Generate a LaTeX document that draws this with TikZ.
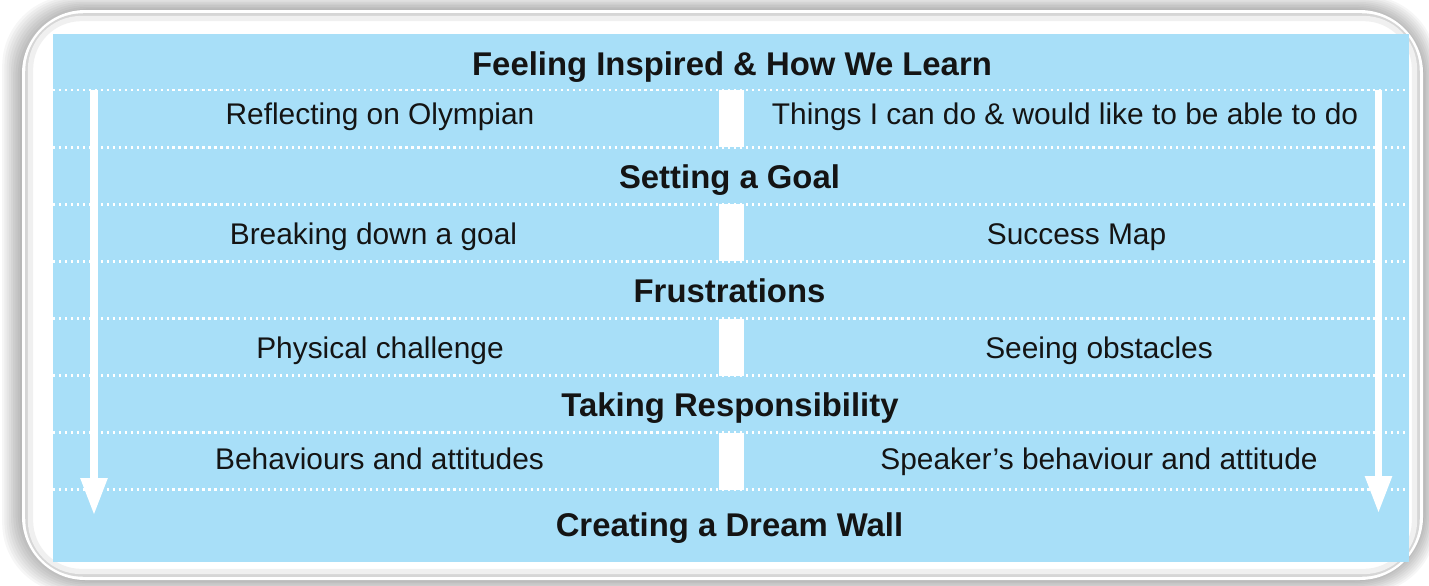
\documentclass[tikz,border=0pt]{standalone}
\usepackage{fontspec}
\setmainfont{Liberation Sans}
\usetikzlibrary{arrows.meta}

\begin{document}
\begin{tikzpicture}[
    x=0.02cm, y=-0.02cm,
    every node/.style={
        inner sep=0pt,
        text depth=0pt,
        text=ink
    },
    heading/.style={font=\fontsize{18.7}{20}\selectfont\bfseries, text height=13.4pt},
    topic/.style={font=\fontsize{17}{19}\selectfont, text height=12.2pt},
    rowline/.style={white, line width=1.7pt, dash pattern=on 1.3pt off 2.1pt},
    flow/.style={white, line width=4pt, -{Triangle[length=21pt,width=14.5pt]}}
]

% colours
\definecolor{panel}{RGB}{168,223,248}
\definecolor{ink}{RGB}{20,20,20}

\useasboundingbox (0,0) rectangle (1429,585);

% soft shadow + white frame
\foreach \s in {1,...,9}
    \fill[black, opacity=0.035, rounded corners=40] (22-2.2*\s,10-1.6*\s) rectangle (1423+1.5*\s,580+1.5*\s);
\fill[white, rounded corners=36] (22,10) rectangle (1423,580);
\draw[black!16, line width=2pt, rounded corners=32] (27,15) rectangle (1418,575);
\draw[black!6, line width=3pt, rounded corners=29] (30.5,18.5) rectangle (1414.5,571.5);

% blue panel
\fill[panel] (53,34) rectangle (1409,562);

% white dotted row lines
\foreach \k in {0,...,7}
    \draw[rowline] (53,90+57.14*\k) -- (1409,90+57.14*\k);

% middle bars
\foreach \k in {0,2,4,6}
    \fill[white] (719,90+57.14*\k) rectangle (744,147.14+57.14*\k);

% arrows
\coordinate (lt) at (94,90);
\coordinate (lb) at (94,515);
\coordinate (rt) at (1378.5,90);
\coordinate (rb) at (1378.5,513);
\draw[flow] (lt) -- (lb);
\draw[flow] (rt) -- (rb);

% headings
\node[heading] (learn) at (732,64) {Feeling Inspired \& How We Learn};
\node[heading] (goal) at (729.5,176.5) {Setting a Goal};
\node[heading] (frust) at (729.5,290.5) {Frustrations};
\node[heading] (resp) at (730,405) {Taking Responsibility};
\node[heading] (dream) at (729.5,525) {Creating a Dream Wall};

% topics
\node[topic] (olymp) at (380,113.5) {Reflecting on Olympian};
\node[topic] (things) at (1065,113.5) {Things I can do \& would like to be able to do};
\node[topic] (break) at (373.5,234) {Breaking down a goal};
\node[topic] (map) at (1076.5,234) {Success Map};
\node[topic] (phys) at (380,348) {Physical challenge};
\node[topic] (obst) at (1099,348) {Seeing obstacles};
\node[topic] (behav) at (379.5,459) {Behaviours and attitudes};
\node[topic] (speak) at (1099,459) {Speaker’s behaviour and attitude};

\end{tikzpicture}
\end{document}
